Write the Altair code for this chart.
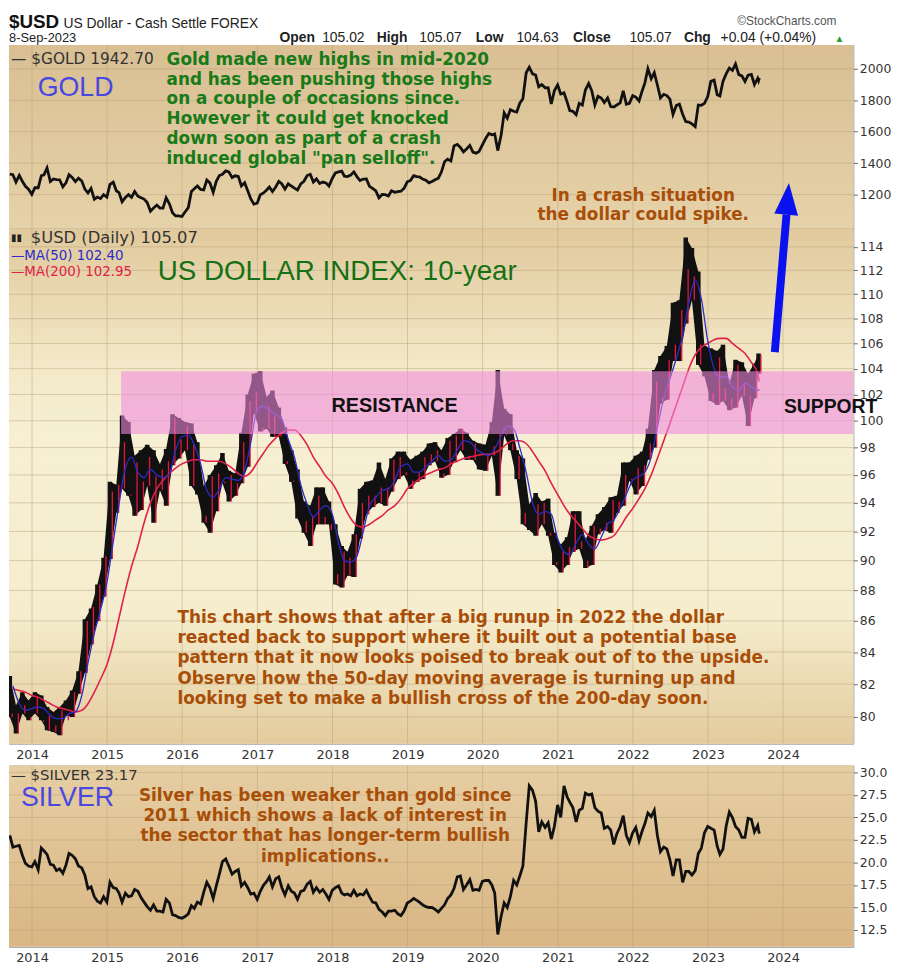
import altair as alt
import pandas as pd

# ---------------- data ----------------
YEARS = list(range(2014, 2025))
USD_TICKS = list(range(80, 115, 2))
GOLD_TICKS = [1200, 1400, 1600, 1800, 2000]
SILVER_TICKS = [12.5, 15.0, 17.5, 20.0, 22.5, 25.0, 27.5, 30.0]

# US Dollar index, monthly low / high / month-end close (Sep 2013 .. Sep 2023)
USD_LO = [80.0, 79.0, 80.2, 79.8,
          80.2, 79.8, 79.2, 79.1, 78.9, 80.1, 80.0, 81.4, 82.7, 84.5, 86.0, 87.6,
          90.1, 93.3, 95.0, 94.5, 93.1, 93.5, 95.2, 92.6, 94.9, 93.8, 96.7, 97.2,
          97.8, 95.2, 94.6, 92.6, 91.9, 93.4, 95.4, 94.1, 94.5, 95.4, 96.6, 100.6,
          99.2, 99.4, 98.8, 98.8, 96.8, 95.5, 92.9, 91.9, 91.0, 92.5, 92.5, 92.5,
          88.4, 88.2, 89.0, 88.9, 91.5, 93.2, 93.7, 94.0, 93.8, 94.8, 95.7, 96.0,
          95.0, 95.5, 95.7, 96.7, 97.0, 95.8, 96.0, 97.0, 97.8, 97.1, 97.1, 96.4,
          96.3, 97.4, 94.5, 98.9, 97.8, 95.7, 92.5, 92.1, 91.7, 92.5, 91.7, 89.7,
          89.2, 89.7, 90.6, 90.8, 89.5, 89.7, 91.8, 92.1, 91.9, 93.3, 93.8, 95.6,
          94.6, 95.2, 97.1, 98.0, 101.3, 101.6, 104.6, 104.6, 107.6, 109.5, 104.3, 103.4,
          101.5, 101.2, 101.5, 100.8, 101.0, 101.9, 99.6, 101.7, 103.6]
USD_HI = [82.5, 80.7, 81.5, 81.0,
          81.5, 81.3, 80.6, 80.3, 80.6, 81.0, 81.6, 82.8, 86.1, 86.8, 88.4, 90.2,
          95.5, 95.3, 100.4, 99.9, 97.4, 97.8, 98.2, 97.8, 96.8, 97.9, 100.5, 100.2,
          99.9, 99.8, 98.4, 95.2, 96.0, 96.7, 97.6, 96.3, 96.1, 99.1, 102.0, 103.6,
          103.8, 101.8, 102.3, 101.0, 99.5, 97.8, 96.4, 94.1, 93.8, 95.1, 95.1, 94.1,
          92.5, 91.0, 90.6, 91.8, 95.0, 95.5, 95.6, 96.9, 95.7, 97.2, 97.7, 97.7,
          97.1, 97.4, 97.7, 98.3, 98.4, 97.8, 98.7, 99.0, 99.4, 99.1, 98.5, 98.3,
          98.2, 99.9, 103.9, 100.9, 100.5, 97.8, 97.2, 93.9, 94.7, 94.1, 94.3, 91.9,
          91.1, 91.6, 93.4, 93.4, 91.4, 92.4, 93.2, 93.7, 94.4, 94.5, 96.9, 96.9,
          97.4, 97.7, 99.4, 103.9, 105.0, 105.8, 109.3, 109.5, 114.8, 113.9, 111.9, 105.8,
          105.6, 105.4, 105.9, 102.8, 104.7, 104.5, 103.6, 104.4, 105.2]
USD_CLOSE = [80.2, 80.2, 80.7, 80.0,
             81.2, 79.7, 80.1, 79.5, 80.4, 79.8, 81.5, 82.8, 86.0, 86.9, 88.4, 90.3,
             94.8, 95.3, 98.4, 94.6, 96.9, 95.5, 97.3, 95.9, 96.4, 97.0, 100.2, 98.6,
             99.6, 98.2, 94.6, 93.1, 95.9, 96.1, 95.5, 96.0, 95.4, 98.4, 101.5, 102.2,
             99.5, 101.1, 100.4, 99.1, 97.0, 95.6, 92.9, 92.7, 93.1, 94.5, 93.0, 92.1,
             89.1, 90.6, 90.2, 91.8, 94.0, 94.5, 94.5, 95.1, 95.1, 97.1, 97.3, 96.2,
             95.6, 96.2, 97.3, 97.5, 97.8, 96.1, 98.5, 98.9, 99.4, 97.4, 98.3, 96.4,
             97.4, 98.1, 99.0, 99.0, 98.3, 97.4, 93.3, 92.1, 93.9, 94.0, 91.9, 89.9,
             90.6, 90.9, 93.2, 91.3, 90.0, 92.4, 92.2, 92.6, 94.2, 94.1, 96.0, 95.7,
             96.5, 96.7, 98.3, 103.0, 101.8, 104.7, 105.9, 108.7, 112.1, 111.5, 105.9, 103.5,
             102.1, 104.9, 102.5, 101.7, 104.3, 102.9, 101.9, 103.6, 105.1]
USD_MA50 = [81.9, 80.8, 80.4, 80.5,
            80.6, 80.5, 80.1, 79.9, 79.9, 80.2, 80.3, 81.3, 83.3, 85.2, 86.7, 88.5,
            91.3, 93.9, 96.5, 97.3, 96.2, 95.8, 96.4, 96.0, 95.8, 96.1, 97.8, 98.8,
            98.9, 98.2, 96.8, 94.9, 94.4, 95.0, 95.8, 95.7, 95.6, 96.3, 98.4, 100.8,
            101.1, 100.8, 100.5, 100.1, 98.6, 97.3, 95.3, 93.9, 93.0, 93.5, 93.8, 93.2,
            91.2, 90.0, 89.9, 90.3, 92.0, 93.8, 94.4, 94.9, 95.0, 95.6, 96.6, 96.8,
            96.2, 96.2, 96.6, 97.0, 97.4, 97.0, 97.1, 97.8, 98.5, 98.4, 97.9, 97.6,
            97.4, 97.9, 98.8, 99.6, 99.4, 98.0, 96.2, 94.0, 93.2, 93.4, 93.2, 91.5,
            90.6, 90.4, 91.2, 91.8, 91.1, 90.8, 91.6, 92.5, 92.8, 93.6, 94.6, 95.6,
            95.9, 96.2, 97.3, 99.5, 101.7, 103.2, 104.8, 106.6, 109.3, 111.2, 109.6, 106.2,
            104.0, 103.3, 103.4, 102.6, 102.3, 102.9, 102.6, 102.3, 102.4]
USD_MA200 = [81.7, 81.6, 81.5, 81.3,
             81.2, 81.0, 80.8, 80.6, 80.5, 80.4, 80.3, 80.4, 80.8, 81.5, 82.3, 83.2,
             84.6, 86.2, 88.0, 89.6, 91.0, 92.6, 94.0, 95.0, 95.6, 96.1, 96.5, 96.8,
             97.0, 97.1, 97.1, 97.0, 97.0, 97.0, 96.8, 96.5, 96.1, 95.9, 96.2, 96.9,
             97.6, 98.2, 98.7, 99.1, 99.3, 99.3, 98.9, 98.2, 97.3, 96.6, 95.9, 95.4,
             94.6, 93.7, 92.9, 92.4, 92.3, 92.5, 92.8, 93.1, 93.5, 93.8, 94.3, 95.0,
             95.4, 95.7, 96.0, 96.2, 96.4, 96.5, 96.8, 97.0, 97.2, 97.3, 97.4, 97.5,
             97.5, 97.6, 97.9, 98.3, 98.5, 98.5, 98.3, 97.7, 97.0, 96.3, 95.4, 94.6,
             93.8, 93.2, 92.7, 92.2, 91.7, 91.5, 91.4, 91.5, 91.7, 92.3, 93.0, 93.6,
             94.3, 95.0, 96.0, 97.2, 98.5, 99.8, 101.2, 102.6, 104.0, 105.1, 105.7, 106.0,
             106.3, 106.4, 106.4, 106.0, 105.6, 105.2, 104.5, 103.6, 103.0]

# Gold: mid-month and month-end values
GOLD_MID = [1330, 1280, 1285, 1235,
            1245, 1320, 1370, 1300, 1295, 1275, 1310, 1305, 1235, 1240, 1185, 1200,
            1265, 1225, 1155, 1200, 1220, 1180, 1150, 1115, 1115, 1180, 1085, 1065,
            1090, 1220, 1255, 1230, 1275, 1285, 1330, 1345, 1320, 1255, 1225, 1140,
            1200, 1230, 1220, 1285, 1235, 1255, 1230, 1285, 1330, 1300, 1280, 1255,
            1338, 1350, 1315, 1345, 1290, 1300, 1240, 1180, 1200, 1225, 1220, 1240,
            1290, 1315, 1300, 1275, 1295, 1345, 1425, 1510, 1500, 1490, 1470, 1475,
            1555, 1580, 1480, 1720, 1740, 1725, 1810, 2010, 1960, 1900, 1880, 1860,
            1840, 1790, 1730, 1780, 1865, 1860, 1825, 1785, 1760, 1770, 1860, 1780,
            1820, 1860, 2000, 1975, 1815, 1830, 1710, 1775, 1665, 1650, 1770, 1780,
            1920, 1835, 1920, 2005, 2030, 1955, 1960, 1900, 1925]
GOLD_END = [1327, 1323, 1253, 1202,
            1244, 1326, 1284, 1296, 1250, 1327, 1283, 1287, 1211, 1171, 1175, 1184,
            1279, 1213, 1183, 1183, 1190, 1172, 1095, 1134, 1115, 1142, 1065, 1061,
            1118, 1238, 1233, 1293, 1215, 1322, 1351, 1309, 1316, 1276, 1173, 1146,
            1211, 1249, 1249, 1268, 1269, 1242, 1269, 1322, 1280, 1271, 1275, 1303,
            1345, 1318, 1325, 1315, 1299, 1253, 1224, 1201, 1192, 1215, 1222, 1282,
            1321, 1313, 1292, 1284, 1305, 1409, 1414, 1520, 1472, 1513, 1464, 1517,
            1589, 1585, 1577, 1686, 1730, 1781, 1975, 1968, 1886, 1879, 1776, 1898,
            1847, 1734, 1708, 1769, 1906, 1770, 1814, 1814, 1757, 1783, 1774, 1829,
            1796, 1909, 1937, 1897, 1838, 1807, 1766, 1711, 1661, 1633, 1768, 1824,
            1928, 1827, 1969, 1990, 1963, 1919, 1965, 1940, 1943]

# Silver: mid-month and month-end values
SILVER_MID = [23.0, 21.8, 20.8, 19.6,
              20.1, 21.6, 20.9, 19.7, 19.3, 19.7, 20.8, 19.6, 18.6, 17.3, 15.7, 16.2,
              17.8, 17.1, 15.6, 16.2, 17.0, 16.1, 15.1, 15.3, 14.6, 15.9, 14.2, 13.9,
              14.0, 15.2, 15.6, 16.7, 17.2, 17.4, 20.1, 19.6, 19.0, 17.4, 17.2, 16.6,
              16.8, 17.9, 17.3, 18.4, 16.4, 16.8, 15.9, 16.9, 17.9, 17.2, 17.0, 15.9,
              17.2, 16.6, 16.5, 16.9, 16.5, 16.9, 15.6, 14.8, 14.1, 14.6, 14.3, 14.6,
              15.7, 15.8, 15.3, 15.0, 14.8, 14.9, 16.0, 17.1, 18.5, 17.5, 16.9, 16.9,
              18.0, 17.5, 12.0, 15.5, 16.2, 17.5, 19.6, 28.5, 26.8, 24.5, 24.4, 24.0,
              25.0, 27.3, 26.1, 25.8, 27.7, 27.6, 25.7, 23.8, 23.6, 23.2, 25.2, 22.2,
              23.9, 23.5, 25.5, 25.8, 21.2, 21.5, 18.5, 20.3, 19.0, 18.6, 21.0, 23.3,
              23.8, 21.8, 21.5, 25.6, 24.0, 22.8, 24.9, 23.4, 23.6]
SILVER_END = [21.7, 21.9, 19.9, 19.5,
              19.2, 21.3, 19.8, 19.1, 18.8, 21.0, 20.4, 19.4, 17.1, 16.2, 15.5, 15.6,
              17.2, 16.6, 16.6, 16.3, 16.8, 15.6, 14.7, 14.6, 14.5, 15.5, 14.1, 13.8,
              14.3, 14.9, 15.4, 17.8, 16.0, 18.7, 20.4, 18.7, 19.2, 17.8, 16.5, 15.9,
              17.5, 18.4, 18.2, 17.2, 17.4, 16.6, 16.8, 17.6, 16.7, 16.7, 16.5, 16.9,
              17.4, 16.4, 16.3, 16.3, 16.4, 16.2, 15.5, 14.5, 14.6, 14.7, 14.1, 15.5,
              16.0, 15.6, 15.1, 15.0, 14.5, 15.3, 16.4, 18.4, 17.0, 18.1, 17.0, 17.9,
              18.0, 16.6, 14.0, 15.0, 18.0, 18.5, 24.4, 28.0, 23.4, 23.9, 22.6, 26.4,
              28.5, 26.7, 24.5, 26.0, 27.5, 26.1, 25.5, 24.0, 22.0, 24.0, 23.0, 23.3,
              22.4, 24.3, 25.1, 23.0, 21.7, 20.3, 20.3, 17.8, 19.0, 19.1, 21.6, 24.0,
              23.6, 20.9, 24.1, 25.0, 23.6, 22.8, 24.8, 24.1, 23.2]

BAND = {"start": "2015-03-10", "end": "2024-12-08", "lo": 99.0, "hi": 103.8}
ARROW_SHAFT = {"x": "2023-11-22", "y": 105.3, "x2": "2024-01-18", "y2": 116.8}
ARROW_HEAD = {"x": "2024-01-23", "y": 118.2}

GOLD_TEXT = ["Gold made new highs in mid-2020", "and has been pushing those highs",
             "on a couple of occasions since.", "However it could get knocked",
             "down soon as part of a crash", "induced global \"pan selloff\"."]
CRASH_TEXT = ["In a crash situation", "the dollar could spike."]
USD_TEXT = ["This chart shows that after a big runup in 2022 the dollar",
            "reacted back to support where it built out a potential base",
            "pattern that it now looks poised to break out of to the upside.",
            "Observe how the 50-day moving average is turning up and",
            "looking set to make a bullish cross of the 200-day soon."]
SILVER_TEXT = ["Silver has been weaker than gold since", "2011 which shows a lack of interest in",
               "the sector that has longer-term bullish", "implications.."]
OHLC = [("Open", True), ("105.02", False), ("High", True), ("105.07", False),
        ("Low", True), ("104.63", False), ("Close", True), ("105.07", False),
        ("Chg", True), ("+0.04 (+0.04%)", False)]
OHLC_X = [273, 316, 371, 414, 471, 512, 569, 626, 681, 718]

# ---------------- frames ----------------
months = pd.date_range("2013-09-01", periods=121, freq="MS")
mid = pd.Series(months + pd.Timedelta(days=14))
mid.iloc[-1] = pd.Timestamp("2023-09-04")
end = pd.Series(months + pd.offsets.MonthEnd(0))
end.iloc[-1] = pd.Timestamp("2023-09-08")


def fmt(s):
    return s.dt.strftime("%Y-%m-%d")


usd_bars = pd.DataFrame({"date": fmt(mid), "lo": USD_LO, "hi": USD_HI, "close": USD_CLOSE})
usd_end = pd.DataFrame({"date": fmt(end), "close": USD_CLOSE, "ma50": USD_MA50, "ma200": USD_MA200})


def two_per_month(mid_vals, end_vals):
    df = pd.concat([pd.DataFrame({"date": mid, "v": mid_vals}),
                    pd.DataFrame({"date": end, "v": end_vals})]).sort_values("date")
    df["date"] = fmt(df["date"])
    return df


gold_df = two_per_month(GOLD_MID, GOLD_END)
silver_df = two_per_month(SILVER_MID, SILVER_END)
year_df = pd.DataFrame({"date": [f"{y}-01-01" for y in YEARS]})
ONE = pd.DataFrame({"a": [0]})

W = 852
H_HEAD, H_GOLD, H_USD, H_GAP, H_SIL = 30, 185, 520, 22, 183
GRID = "#B49E78"
BROWN = "#A84E08"
GREEN = "#187A18"
BLUE_T = "#4848E0"
ARROW_BLUE = "#0A12F0"
ANNOT_FONT = "DejaVu Sans"
SANS = "Liberation Sans"

XSCALE = alt.Scale(domain=[alt.DateTime(year=2013, month=9, date=11),
                           alt.DateTime(year=2024, month=12, date=8)])
X_YEARS_AXIS = alt.Axis(values=[alt.DateTime(year=y, month=1, date=1) for y in YEARS],
                        format="%Y", labelFont=ANNOT_FONT, labelFontSize=13, labelColor="#333",
                        labelPadding=5, ticks=False, domain=False, grid=False, title=None)


def xenc(field="date", axis=None):
    if axis is None:
        return alt.X(f"{field}:T", scale=XSCALE, axis=None)
    return alt.X(f"{field}:T", scale=XSCALE, axis=axis)


def yaxis(values, fmtstr):
    return alt.Axis(orient="right", values=values, format=fmtstr, grid=False, domain=False,
                    tickSize=4, tickColor="#666", labelPadding=2, labelFont=ANNOT_FONT,
                    labelFontSize=12.5, labelColor="#333", title=None)


def txt(text, x, y, size=12, color="#222", weight="normal", align="left",
        baseline="alphabetic", font=SANS, lh=None):
    kw = dict(text=text, fontSize=size, color=color, fontWeight=weight, align=align,
              baseline=baseline, font=font)
    if lh is not None:
        kw["lineHeight"] = lh
    return alt.Chart(ONE).mark_text(**kw).encode(x=alt.value(x), y=alt.value(y))


def bg(h, stops):
    grad = alt.LinearGradient(gradient="linear", x1=0, x2=0, y1=0, y2=1,
                              stops=[alt.GradientStop(offset=o, color=c) for o, c in stops])
    return alt.Chart(ONE).mark_rect(color=grad).encode(
        x=alt.value(0), x2=alt.value(W), y=alt.value(0), y2=alt.value(h))


NOFRAME = alt.ViewBackground(stroke="transparent")

# ---------------- header ----------------
head_layers = [
    txt("$USD", 0, 13, size=19, weight="bold", color="#111"),
    txt("US Dollar - Cash Settle FOREX", 55, 13, size=14, color="#222"),
    txt("\u00a9StockCharts.com", 835, 10, size=12, color="#555", align="right"),
    txt("8-Sep-2023", 0, 27, size=13, color="#222"),
]
for (s, b), xx in zip(OHLC, OHLC_X):
    head_layers.append(txt(s, xx, 27, size=14, weight="bold" if b else "normal", color="#222"))
head_layers.append(txt("\u25b2", 833, 27, size=10, color="#2a9a2a"))
header = alt.layer(*head_layers).properties(width=W, height=H_HEAD, view=NOFRAME)

# ---------------- gold panel ----------------
gy = alt.Scale(domain=[986, 2151])
GAX = yaxis(GOLD_TICKS, "d")
gold = alt.layer(
    bg(H_GOLD, [(0, "#D9BF93"), (1, "#E6D2A9")]),
    alt.Chart(year_df).mark_rule(color=GRID, opacity=0.45).encode(x=xenc()),
    alt.Chart(pd.DataFrame({"v": GOLD_TICKS})).mark_rule(color=GRID, opacity=0.45).encode(
        y=alt.Y("v:Q", scale=gy, axis=GAX)),
    alt.Chart(gold_df).mark_line(color="#111", strokeWidth=2.8, clip=True).encode(
        x=xenc(), y=alt.Y("v:Q", scale=gy, axis=GAX)),
    txt("\u2014 $GOLD 1942.70", 2, 14, size=15.5, color="#333", baseline="middle", font=ANNOT_FONT),
    txt("GOLD", 29, 43, size=27, color=BLUE_T, baseline="middle"),
    txt(GOLD_TEXT, 159, 20, size=17, color=GREEN, weight="bold", font=ANNOT_FONT, lh=20),
    txt(CRASH_TEXT, 640, 157, size=17, color=BROWN, weight="bold", font=ANNOT_FONT, lh=20,
        align="center"),
).properties(width=W, height=H_GOLD)

# ---------------- USD panel ----------------
uy = alt.Scale(type="log", domain=[78.4, 115.6])
UAX = yaxis(USD_TICKS, "d")
usd = alt.layer(
    bg(H_USD, [(0, "#E1C99C"), (0.27, "#F3E9C8"), (0.4, "#F6EFD3"), (0.75, "#F5EDCD"),
               (1, "#E3CB9D")]),
    alt.Chart(year_df).mark_rule(color=GRID, opacity=0.45).encode(x=xenc(axis=X_YEARS_AXIS)),
    alt.Chart(pd.DataFrame({"v": USD_TICKS})).mark_rule(color=GRID, opacity=0.45).encode(
        y=alt.Y("v:Q", scale=uy, axis=UAX)),
    # price: dense black range with monthly bars and red down-bars beside them
    alt.Chart(usd_bars).mark_area(color="#111", clip=True).encode(
        x=xenc(axis=X_YEARS_AXIS), y=alt.Y("lo:Q", scale=uy, axis=UAX), y2="hi:Q"),
    alt.Chart(usd_bars).mark_rule(color="#111", strokeWidth=4.6, clip=True).encode(
        x=xenc(axis=X_YEARS_AXIS), y=alt.Y("lo:Q", scale=uy, axis=UAX), y2="hi:Q"),
    alt.Chart(usd_bars).mark_rule(color="#E3173E", strokeWidth=1.3, xOffset=2.4,
                                  clip=True).encode(
        x=xenc(axis=X_YEARS_AXIS), y=alt.Y("lo:Q", scale=uy, axis=UAX), y2="close:Q"),
    alt.Chart(usd_end).mark_line(color="#E0204A", strokeWidth=1.6, interpolate="monotone",
                                 clip=True).encode(
        x=xenc(axis=X_YEARS_AXIS), y=alt.Y("ma200:Q", scale=uy, axis=UAX)),
    alt.Chart(usd_end).mark_line(color="#2B2BC8", strokeWidth=1.3, interpolate="monotone",
                                 clip=True).encode(
        x=xenc(axis=X_YEARS_AXIS), y=alt.Y("ma50:Q", scale=uy, axis=UAX)),
    alt.Chart(pd.DataFrame([BAND])).mark_rect(color="#F18AE0", opacity=0.58, clip=True).encode(
        x=xenc("start", axis=X_YEARS_AXIS), x2="end:T",
        y=alt.Y("lo:Q", scale=uy, axis=UAX), y2="hi:Q"),
    txt("\u25ae\u25ae", 2, 10, size=10, color="#222", baseline="middle", font=ANNOT_FONT),
    txt("$USD (Daily) 105.07", 22, 10, size=16.5, color="#333", baseline="middle", font=ANNOT_FONT),
    txt("\u2014MA(50) 102.40", 2, 28, size=13.5, color="#2B2BC8", baseline="middle", font=ANNOT_FONT),
    txt("\u2014MA(200) 102.95", 2, 44, size=13.5, color="#E0204A", baseline="middle", font=ANNOT_FONT),
    txt("US DOLLAR INDEX: 10-year", 150, 44, size=28, color="#167016", baseline="middle"),
    txt("RESISTANCE", 389, 179, size=20, weight="bold", color="#111", align="center",
        baseline="middle"),
    txt("SUPPORT", 782, 180, size=19.5, weight="bold", color="#111", baseline="middle"),
    txt(USD_TEXT, 170, 398, size=17, color=BROWN, weight="bold", font=ANNOT_FONT, lh=20.5),
    alt.Chart(pd.DataFrame([ARROW_SHAFT])).mark_rule(color=ARROW_BLUE, strokeWidth=8).encode(
        x=xenc("x", axis=X_YEARS_AXIS), x2="x2:T",
        y=alt.Y("y:Q", scale=uy, axis=UAX), y2="y2:Q"),
    alt.Chart(pd.DataFrame([ARROW_HEAD])).mark_point(
        shape="M0,-1L0.75,1L-0.75,1Z", filled=True, size=1024, color=ARROW_BLUE, opacity=1,
        angle=5, strokeWidth=0).encode(
        x=xenc("x", axis=X_YEARS_AXIS), y=alt.Y("y:Q", scale=uy, axis=UAX)),
).properties(width=W, height=H_USD)

gap = alt.layer(txt(" ", 0, 10)).properties(width=W, height=H_GAP, view=NOFRAME)

# ---------------- silver panel ----------------
sy = alt.Scale(domain=[10.63, 30.77])
SAX = yaxis(SILVER_TICKS, ".1f")
silver = alt.layer(
    bg(H_SIL, [(0, "#E6CEA3"), (1, "#D9B684")]),
    alt.Chart(year_df).mark_rule(color=GRID, opacity=0.45).encode(x=xenc(axis=X_YEARS_AXIS)),
    alt.Chart(pd.DataFrame({"v": SILVER_TICKS})).mark_rule(color=GRID, opacity=0.45).encode(
        y=alt.Y("v:Q", scale=sy, axis=SAX)),
    alt.Chart(silver_df).mark_line(color="#111", strokeWidth=2.8, clip=True).encode(
        x=xenc(axis=X_YEARS_AXIS), y=alt.Y("v:Q", scale=sy, axis=SAX)),
    txt("\u2014 $SILVER 23.17", 2, 10, size=15, color="#333", baseline="middle", font=ANNOT_FONT),
    txt("SILVER", 12, 33, size=27, color=BLUE_T, baseline="middle"),
    txt(SILVER_TEXT, 319, 36, size=17, color=BROWN, weight="bold", font=ANNOT_FONT, lh=20.3,
        align="center"),
).properties(width=W, height=H_SIL)

chart = alt.vconcat(header, gold, usd, gap, silver, spacing=0, bounds="flush").properties(
    padding={"left": 0, "top": 0, "right": 0, "bottom": 0}, background="white"
).configure_view(stroke="#9C9C9C", strokeWidth=1)

chart.save("out.html", embed_options={"renderer": "svg", "actions": False})
